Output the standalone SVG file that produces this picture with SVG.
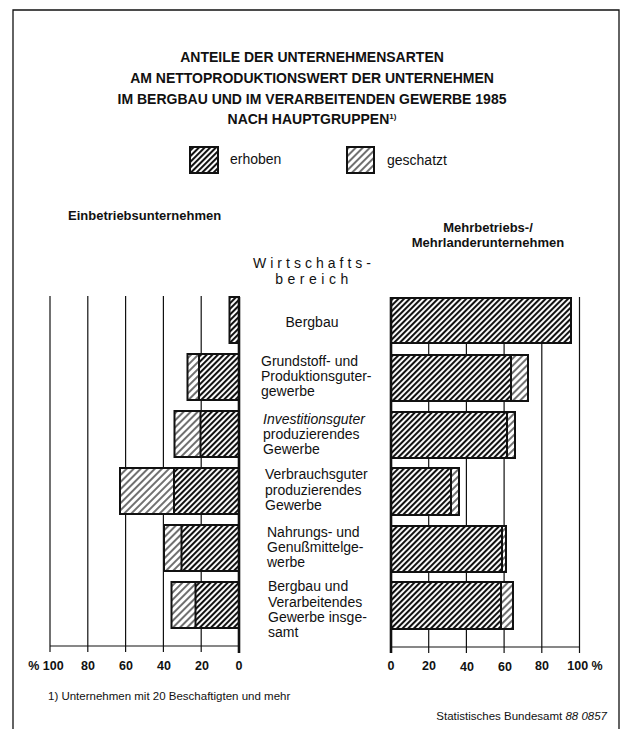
<svg xmlns="http://www.w3.org/2000/svg" width="623" height="729" viewBox="0 0 623 729">
<style>
text{font-family:"Liberation Sans",Arial,sans-serif;fill:#111}
.title{font-size:14px;font-weight:bold;text-anchor:middle}
.lab{font-size:14px}
.head{font-size:13px;font-weight:bold}
.ax{font-size:12.5px;font-weight:bold;text-anchor:middle}
.small{font-size:11.5px}
.grid{stroke:#111;stroke-width:1.2;fill:none}
.zero{stroke:#111;stroke-width:2.6}
.out{fill:none;stroke:#111;stroke-width:2}
.erh{fill:url(#pE)}
.ges{fill:url(#pG)}
</style>
<defs>
<pattern id="pE" patternUnits="userSpaceOnUse" width="4" height="4" patternTransform="rotate(45)">
<rect width="4" height="4" fill="#fff"/>
<line x1="1" y1="0" x2="1" y2="4" stroke="#111" stroke-width="2.1"/>
</pattern>
<pattern id="pG" patternUnits="userSpaceOnUse" width="5" height="5" patternTransform="rotate(45)">
<rect width="5" height="5" fill="#fff"/>
<line x1="1" y1="0" x2="1" y2="5" stroke="#111" stroke-width="1.2"/>
</pattern>
</defs>
<rect width="623" height="729" fill="#fff"/>
<g id="frame" fill="none" stroke="#111" stroke-width="1.3">
<polyline points="13,729 13,10 619,10 619,729"/>
</g>
<g id="title">
<text class="title" x="312" y="62">ANTEILE DER UNTERNEHMENSARTEN</text>
<text class="title" x="312" y="83">AM NETTOPRODUKTIONSWERT DER UNTERNEHMEN</text>
<text class="title" x="312" y="104">IM BERGBAU UND IM VERARBEITENDEN GEWERBE 1985</text>
<text class="title" x="312" y="124">NACH HAUPTGRUPPEN<tspan font-size="8" dy="-5">1)</tspan></text>
</g>
<g id="legend">
<rect class="erh" x="190" y="147" width="28" height="26"/>
<rect class="out" x="190" y="147" width="28" height="26"/>
<text class="lab" x="230" y="164" font-size="12.5">erhoben</text>
<rect class="ges" x="347" y="147" width="27" height="26"/>
<rect class="out" x="347" y="147" width="27" height="26"/>
<text class="lab" x="387" y="165" font-size="12.5">geschatzt</text>
</g>
<g id="headings">
<text class="head" x="68" y="220">Einbetriebsunternehmen</text>
<text class="head" x="488" y="232" text-anchor="middle">Mehrbetriebs-/</text>
<text class="head" x="488" y="247" text-anchor="middle">Mehrlanderunternehmen</text>
<text class="lab" x="314" y="268" text-anchor="middle" letter-spacing="4" font-size="13.5">Wirtschafts-</text>
<text class="lab" x="314" y="284" text-anchor="middle" letter-spacing="4.5" font-size="13.5">bereich</text>
</g>
<g id="connectors">
<g id="grid-left">
<line class="grid" x1="50" y1="296" x2="50" y2="652"/>
<line class="grid" x1="87.8" y1="296" x2="87.8" y2="652"/>
<line class="grid" x1="125.6" y1="296" x2="125.6" y2="652"/>
<line class="grid" x1="163.4" y1="296" x2="163.4" y2="652"/>
<line class="grid" x1="201.2" y1="296" x2="201.2" y2="652"/>
<line class="grid" x1="50" y1="646" x2="239" y2="646" stroke-width="1.5"/>
</g>
<g id="grid-right">
<line class="grid" x1="428.7" y1="297" x2="428.7" y2="653"/>
<line class="grid" x1="466.4" y1="297" x2="466.4" y2="653"/>
<line class="grid" x1="504.1" y1="297" x2="504.1" y2="653"/>
<line class="grid" x1="541.8" y1="297" x2="541.8" y2="653"/>
<line class="grid" x1="579.5" y1="297" x2="579.5" y2="653"/>
<line class="grid" x1="391" y1="647" x2="579.5" y2="647" stroke-width="1.5"/>
</g>
</g>
<g id="bars-left">
<g id="L-bergbau"><rect class="erh" x="229.5" y="297" width="9.5" height="46"/><rect class="out" x="229.5" y="297" width="9.5" height="46"/></g>
<g id="L-grundstoff"><rect class="ges" x="187.5" y="354" width="11.5" height="46"/><rect class="erh" x="199" y="354" width="40" height="46"/><rect class="out" x="187.5" y="354" width="51.5" height="46"/><line class="out" x1="199" y1="354" x2="199" y2="400"/></g>
<g id="L-invest"><rect class="ges" x="174.5" y="411" width="26" height="46"/><rect class="erh" x="200.5" y="411" width="38.5" height="46"/><rect class="out" x="174.5" y="411" width="64.5" height="46"/><line class="out" x1="200.5" y1="411" x2="200.5" y2="457"/></g>
<g id="L-verbrauch"><rect class="ges" x="120" y="468" width="54" height="46"/><rect class="erh" x="174" y="468" width="65" height="46"/><rect class="out" x="120" y="468" width="119" height="46"/><line class="out" x1="174" y1="468" x2="174" y2="514"/></g>
<g id="L-nahrung"><rect class="ges" x="164" y="525" width="17.5" height="46"/><rect class="erh" x="181.5" y="525" width="57.5" height="46"/><rect class="out" x="164" y="525" width="75" height="46"/><line class="out" x1="181.5" y1="525" x2="181.5" y2="571"/></g>
<g id="L-insgesamt"><rect class="ges" x="171.5" y="582" width="24" height="46"/><rect class="erh" x="195.5" y="582" width="43.5" height="46"/><rect class="out" x="171.5" y="582" width="67.5" height="46"/><line class="out" x1="195.5" y1="582" x2="195.5" y2="628"/></g>
<line class="zero" x1="239" y1="297" x2="239" y2="653"/>
</g>
<g id="bars-right">
<g id="R-bergbau"><rect class="erh" x="391" y="298" width="180" height="45"/><rect class="out" x="391" y="298" width="180" height="45"/></g>
<g id="R-grundstoff"><rect class="erh" x="391" y="355" width="120" height="46"/><rect class="ges" x="511" y="355" width="17" height="46"/><rect class="out" x="391" y="355" width="137" height="46"/><line class="out" x1="511" y1="355" x2="511" y2="401"/></g>
<g id="R-invest"><rect class="erh" x="391" y="412" width="116" height="46"/><rect class="ges" x="507" y="412" width="8" height="46"/><rect class="out" x="391" y="412" width="124" height="46"/><line class="out" x1="507" y1="412" x2="507" y2="458"/></g>
<g id="R-verbrauch"><rect class="erh" x="391" y="468" width="60" height="47"/><rect class="ges" x="451" y="468" width="8" height="47"/><rect class="out" x="391" y="468" width="68" height="47"/><line class="out" x1="451" y1="468" x2="451" y2="515"/></g>
<g id="R-nahrung"><rect class="erh" x="391" y="526" width="111" height="46"/><rect class="ges" x="502" y="526" width="4" height="46"/><rect class="out" x="391" y="526" width="115" height="46"/><line class="out" x1="502" y1="526" x2="502" y2="572"/></g>
<g id="R-insgesamt"><rect class="erh" x="391" y="582" width="110" height="47"/><rect class="ges" x="501" y="582" width="12" height="47"/><rect class="out" x="391" y="582" width="122" height="47"/><line class="out" x1="501" y1="582" x2="501" y2="629"/></g>
<line class="zero" x1="391" y1="297" x2="391" y2="653"/>
</g>
<g id="categories">
<text class="lab" x="312" y="327" text-anchor="middle">Bergbau</text>
<text class="lab" x="261" y="366">Grundstoff- und</text>
<text class="lab" x="261" y="381">Produktionsguter-</text>
<text class="lab" x="261" y="396">gewerbe</text>
<text class="lab" x="263" y="424" font-style="italic">Investitionsguter</text>
<text class="lab" x="263" y="439">produzierendes</text>
<text class="lab" x="263" y="454">Gewerbe</text>
<text class="lab" x="265" y="479">Verbrauchsguter</text>
<text class="lab" x="265" y="495">produzierendes</text>
<text class="lab" x="265" y="510">Gewerbe</text>
<text class="lab" x="267" y="537">Nahrungs- und</text>
<text class="lab" x="267" y="552">Genußmittelge-</text>
<text class="lab" x="267" y="567">werbe</text>
<text class="lab" x="268" y="591">Bergbau und</text>
<text class="lab" x="268" y="607">Verarbeitendes</text>
<text class="lab" x="268" y="622">Gewerbe insge-</text>
<text class="lab" x="268" y="637">samt</text>
</g>
<g id="axis-labels">
<text class="ax" x="46" y="670">% 100</text>
<text class="ax" x="88" y="670">80</text>
<text class="ax" x="126" y="670">60</text>
<text class="ax" x="164" y="670">40</text>
<text class="ax" x="202" y="670">20</text>
<text class="ax" x="239" y="670">0</text>
<text class="ax" x="391" y="670">0</text>
<text class="ax" x="429" y="670">20</text>
<text class="ax" x="467" y="671">40</text>
<text class="ax" x="505" y="671">60</text>
<text class="ax" x="542" y="670">80</text>
<text class="ax" x="585" y="670">100 %</text>
</g>
<g id="footer">
<text class="small" x="48" y="700">1) Unternehmen mit 20 Beschaftigten und mehr</text>
<text class="small" x="607" y="720" text-anchor="end">Statistisches Bundesamt <tspan font-style="italic">88 0857</tspan></text>
</g>
</svg>
